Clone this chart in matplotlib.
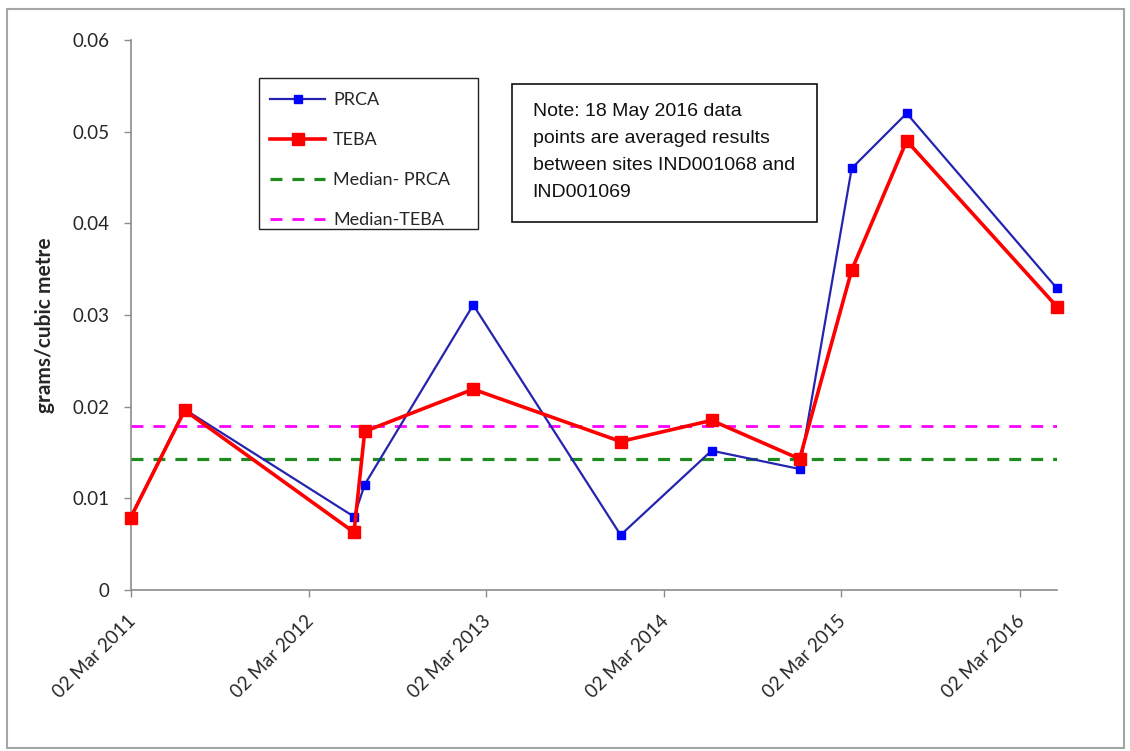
import matplotlib
matplotlib.use('Agg')
import matplotlib.pyplot as plt
import pandas as pd
from matplotlib.patches import Rectangle
from matplotlib import font_manager
from matplotlib.transforms import ScaledTranslation

# ---------------- data ----------------
dates = ['2011-03-02', '2011-06-21', '2012-06-03', '2012-06-25', '2013-02-03',
         '2013-12-03', '2014-06-08', '2014-12-06', '2015-03-23', '2015-07-14',
         '2016-05-18']
prca = [0.0080, 0.0197, 0.0080, 0.0115, 0.0311, 0.0060, 0.0152, 0.0132,
        0.0460, 0.0520, 0.0329]
teba = [0.0079, 0.0196, 0.0063, 0.0173, 0.0219, 0.0162, 0.0185, 0.0143,
        0.0349, 0.0490, 0.0309]
median_prca = 0.01425
median_teba = 0.0179
series_labels = ['PRCA', 'TEBA', 'Median- PRCA', 'Median-TEBA']
x_ticks = ['2011-03-02', '2012-03-02', '2013-03-02', '2014-03-02',
           '2015-03-02', '2016-03-02']
x_tick_labels = ['02 Mar 2011', '02 Mar 2012', '02 Mar 2013', '02 Mar 2014',
                 '02 Mar 2015', '02 Mar 2016']
x_range = ['2011-03-02', '2016-05-18']
y_ticks = [0, 0.01, 0.02, 0.03, 0.04, 0.05, 0.06]
y_tick_labels = ['0', '0.01', '0.02', '0.03', '0.04', '0.05', '0.06']
y_label = 'grams/cubic metre'
note_lines = ['Note: 18 May 2016 data',
              'points are averaged results',
              'between sites IND001068 and',
              'IND001069']

# ---------------- fonts ----------------
names = {f.name for f in font_manager.fontManager.ttflist}
main_font = 'Lato' if 'Lato' in names else 'DejaVu Sans'
if 'Liberation Sans Narrow' in names:
    note_font, note_size = 'Liberation Sans Narrow', 16.5
else:
    note_font, note_size = 'Liberation Sans', 14
plt.rcParams['font.family'] = [main_font, 'DejaVu Sans']
plt.rcParams['lines.scale_dashes'] = False

W, H = 1130, 751
fig = plt.figure(figsize=(W / 100, H / 100), dpi=100)
fig.patch.set_facecolor('white')

def fx(px):
    return px / W

def fy(py):
    return 1 - py / H

ax_l, ax_r, ax_t, ax_b = 130.7, 1057, 40, 590
ax = fig.add_axes([fx(ax_l), fy(ax_b), (ax_r - ax_l) / W, (ax_b - ax_t) / H])

x = pd.to_datetime(dates)
xt = pd.to_datetime(x_ticks)
xr = pd.to_datetime(x_range)

txt_color = '#262626'
dash = (8.6, 7.2)

l_mp = ax.axhline(median_prca, color='#1f8a1f', lw=2.3, dashes=dash, zorder=2,
                  label=series_labels[2])
l_mt = ax.axhline(median_teba, color='#ff00ff', lw=2.0, dashes=dash, zorder=2,
                  label=series_labels[3])
l_p, = ax.plot(x, prca, color='#2424b0', lw=1.6, marker='s', ms=6.3,
               mfc='#0000ff', mec='#0000ff', zorder=3, label=series_labels[0],
               clip_on=False)
l_t, = ax.plot(x, teba, color='#ff0000', lw=2.6, marker='s', ms=8.3,
               mfc='#ff0000', mec='#ff0000', zorder=4, label=series_labels[1],
               clip_on=False)

ax.set_xlim(xr[0], xr[1])
ax.set_ylim(y_ticks[0], y_ticks[-1])
ax.set_yticks(y_ticks)
ax.set_yticklabels(y_tick_labels)
ax.set_xticks(xt)
ax.set_xticklabels(x_tick_labels)

for s in ['top', 'right']:
    ax.spines[s].set_visible(False)
for s in ['left', 'bottom']:
    ax.spines[s].set_color('#8c8c8c')
    ax.spines[s].set_linewidth(1.2)
    ax.spines[s].set_zorder(1)

ax.tick_params(axis='y', direction='out', length=5, width=1, color='#8c8c8c',
               pad=10, labelsize=13.5, labelcolor=txt_color)
ax.tick_params(axis='x', direction='out', length=5, width=1, color='#8c8c8c',
               pad=15.5, labelsize=13.5, labelcolor=txt_color)
for lab in ax.get_xticklabels():
    lab.set_rotation(45)
    lab.set_ha('right')
    lab.set_va('center')
    lab.set_rotation_mode('anchor')
    lab.set_transform(lab.get_transform() + ScaledTranslation(0.02, 0, fig.dpi_scale_trans))

ax.set_ylabel(y_label, fontsize=15, fontweight='bold', color=txt_color)
ax.yaxis.label.set_va('center')
ax.yaxis.set_label_coords((45 - ax_l) / (ax_r - ax_l), (ax_b - 325) / (ax_b - ax_t))

# ---------------- legend ----------------
leg = fig.legend(handles=[l_p, l_t, l_mp, l_mt], labels=series_labels,
                 loc='center left', bbox_to_anchor=(fx(270), fy(160)),
                 frameon=False, borderpad=0, borderaxespad=0,
                 handlelength=3.05, handletextpad=0.45, labelspacing=1.33,
                 fontsize=13, numpoints=1)
for t in leg.get_texts():
    t.set_color(txt_color)
fig.add_artist(Rectangle((fx(259), fy(229)), fx(478) - fx(259), fy(78) - fy(229),
                         transform=fig.transFigure, fill=False, ec='#222222', lw=1.0))

# ---------------- note box ----------------
fig.add_artist(Rectangle((fx(512), fy(222)), fx(817) - fx(512), fy(84) - fy(222),
                         transform=fig.transFigure, fill=False, ec='#111111', lw=1.2))
for i, line in enumerate(note_lines):
    fig.text(fx(532.7), fy(112 + 26.7 * i), line, ha='left', va='center',
             family=[note_font, 'DejaVu Sans'], fontsize=note_size, color='#111111')

# ---------------- outer border ----------------
fig.add_artist(Rectangle((fx(7), fy(748)), fx(1124) - fx(7), fy(9) - fy(748),
                         transform=fig.transFigure, fill=False, ec='#a6a6a6', lw=1.5))

fig.savefig('out.png', dpi=100, facecolor='white')
